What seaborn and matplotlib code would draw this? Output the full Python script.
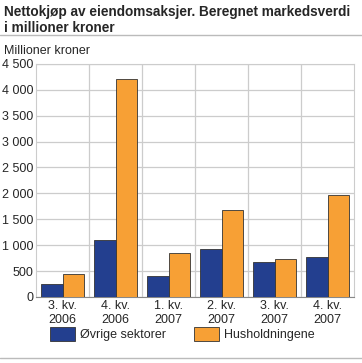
import seaborn as sns
import pandas as pd
import matplotlib.pyplot as plt
from matplotlib.ticker import FixedLocator

# Data
quarters = ['3. kv.\n2006', '4. kv.\n2006', '1. kv.\n2007', '2. kv.\n2007', '3. kv.\n2007', '4. kv.\n2007']
ovrige = [250, 1100, 400, 930, 670, 770]
husholdninger = [450, 4200, 850, 1680, 730, 1960]
series = ['Øvrige sektorer', 'Husholdningene']
colors = ['#233f8f', '#f7a035']

df = pd.DataFrame({
    'kvartal': quarters * 2,
    'verdi': ovrige + husholdninger,
    'sektor': [series[0]] * len(quarters) + [series[1]] * len(quarters),
})

sns.set_style('white')
plt.rcParams['font.family'] = ['Liberation Sans', 'DejaVu Sans']

fig = plt.figure(figsize=(3.62, 3.63), dpi=100)
ax = fig.add_axes([0.10, 0.182, 0.878, 0.642])

sns.barplot(data=df, x='kvartal', y='verdi', hue='sektor', palette=colors,
            saturation=1, width=0.8, edgecolor='#333333', linewidth=0.6,
            ax=ax, zorder=3)

ax.set_ylim(0, 4500)
ax.set_xlim(-0.5, len(quarters) - 0.5)
ax.set_yticks(range(0, 4501, 500))
ax.set_yticklabels([f'{v:,}'.replace(',', ' ') for v in range(0, 4501, 500)])
ax.yaxis.grid(True, color='#cccccc', linewidth=0.9, zorder=0)
ax.xaxis.set_minor_locator(FixedLocator([i + 0.5 for i in range(len(quarters) - 1)]))
ax.xaxis.grid(True, which='minor', color='#cccccc', linewidth=0.9, zorder=0)
ax.tick_params(axis='both', labelsize=9, length=0, pad=2)
ax.tick_params(axis='x', which='minor', length=0)
ax.set_xlabel('')
ax.set_ylabel('')
for side in ['top', 'right', 'left']:
    ax.spines[side].set_color('#cccccc')
ax.spines['bottom'].set_color('#888888')

ax.legend(loc='center', bbox_to_anchor=(0.46, -0.16), ncol=2, frameon=False,
          fontsize=9, handlelength=2.0, handleheight=1.3, handletextpad=0.4,
          columnspacing=2.2)

fig.text(0.01, 0.985, 'Nettokjøp av eiendomsaksjer. Beregnet markedsverdi\ni millioner kroner',
         fontsize=9.8, fontweight='bold', va='top', ha='left', linespacing=1.15)
fig.add_artist(plt.Line2D([0, 1], [0.904, 0.904], color='#bbbbbb', linewidth=1))
fig.text(0.01, 0.843, 'Millioner kroner', fontsize=9, va='bottom', ha='left')
fig.add_artist(plt.Line2D([0, 1], [0.015, 0.015], color='#bbbbbb', linewidth=1))

fig.savefig('out.png', dpi=100)
